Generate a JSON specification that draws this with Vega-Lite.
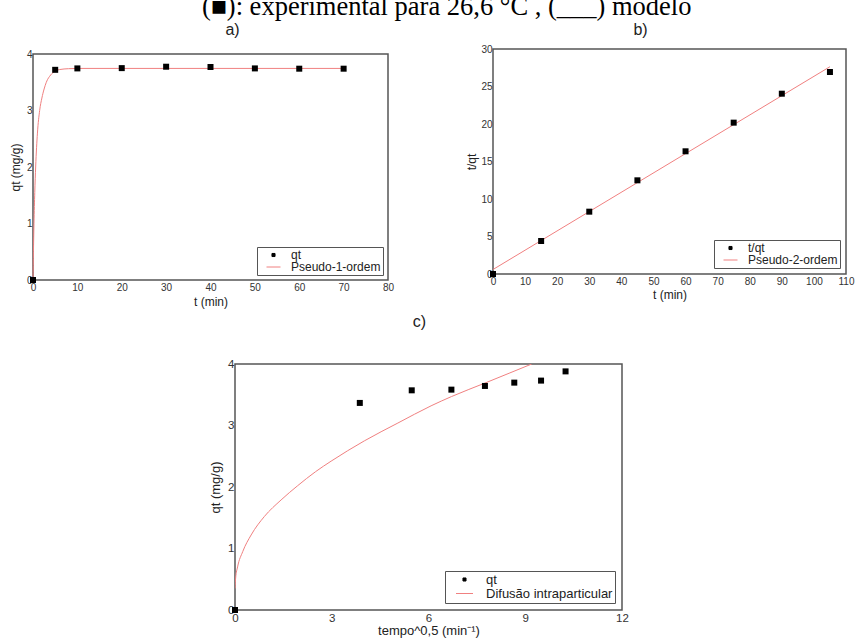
{
  "$schema": "https://vega.github.io/schema/vega-lite/v6.json",
  "padding": {"left": 8, "top": -7, "right": 0, "bottom": 0},
  "autosize": {"type": "pad"},
  "background": "white",
  "config": {
    "font": "Liberation Sans",
    "view": {"stroke": "#555", "strokeWidth": 1.5},
    "axis": {"grid": false, "domain": false, "ticks": false, "labelFontSize": 10, "labelColor": "#333", "labelPadding": 1, "titleFontSize": 12, "titleFontWeight": "normal", "titleColor": "#222", "labelFlush": false, "labelOverlap": false, "format": "d"},
    "axisX": {"labelPadding": 2},
    "legend": {"title": null, "orient": "bottom-right", "offset": 5, "padding": 2, "strokeColor": "#555", "fillColor": "white", "labelFontSize": 12, "labelColor": "#222", "labelOffset": 3, "symbolSize": 784, "clipHeight": 12, "rowPadding": 0, "symbolStrokeWidth": 1}
  },
  "title": {"text": "(■): experimental para 26,6 °C , (___) modelo", "font": "Liberation Serif", "fontSize": 26.5, "fontWeight": "normal", "color": "black", "anchor": "middle", "offset": 1, "dx": 15},
  "datasets": {
    "pts_a": [
      {"t": 0, "q": 0, "s": "qt"}, {"t": 5, "q": 3.72, "s": "qt"}, {"t": 10, "q": 3.745, "s": "qt"}, {"t": 20, "q": 3.75, "s": "qt"}, {"t": 30, "q": 3.775, "s": "qt"}, {"t": 40, "q": 3.77, "s": "qt"}, {"t": 50, "q": 3.745, "s": "qt"}, {"t": 60, "q": 3.74, "s": "qt"}, {"t": 70, "q": 3.74, "s": "qt"}
    ],
    "fit_a": [
      {"t": 0, "q": 0, "s": "Pseudo-1-ordem"}, {"t": 0.1, "q": 0.5, "s": "Pseudo-1-ordem"}, {"t": 0.22, "q": 1.0, "s": "Pseudo-1-ordem"}, {"t": 0.4, "q": 1.55, "s": "Pseudo-1-ordem"}, {"t": 0.6, "q": 2.0, "s": "Pseudo-1-ordem"}, {"t": 1.0, "q": 2.6, "s": "Pseudo-1-ordem"}, {"t": 1.5, "q": 3.0, "s": "Pseudo-1-ordem"}, {"t": 2, "q": 3.22, "s": "Pseudo-1-ordem"}, {"t": 2.5, "q": 3.38, "s": "Pseudo-1-ordem"}, {"t": 3, "q": 3.5, "s": "Pseudo-1-ordem"}, {"t": 4, "q": 3.63, "s": "Pseudo-1-ordem"}, {"t": 5, "q": 3.7, "s": "Pseudo-1-ordem"}, {"t": 6, "q": 3.725, "s": "Pseudo-1-ordem"}, {"t": 8, "q": 3.74, "s": "Pseudo-1-ordem"}, {"t": 10, "q": 3.745, "s": "Pseudo-1-ordem"}, {"t": 70, "q": 3.745, "s": "Pseudo-1-ordem"}
    ],
    "pts_b": [
      {"t": 0, "y": 0, "s": "t/qt"}, {"t": 15, "y": 4.4, "s": "t/qt"}, {"t": 30, "y": 8.31, "s": "t/qt"}, {"t": 45, "y": 12.49, "s": "t/qt"}, {"t": 60, "y": 16.36, "s": "t/qt"}, {"t": 75, "y": 20.18, "s": "t/qt"}, {"t": 90, "y": 24.04, "s": "t/qt"}, {"t": 105, "y": 26.93, "s": "t/qt"}
    ],
    "fit_b": [
      {"t": 0, "y": 0.6, "s": "Pseudo-2-ordem"}, {"t": 105, "y": 27.64, "s": "Pseudo-2-ordem"}
    ],
    "pts_c": [
      {"x": 0, "q": 0, "s": "qt"}, {"x": 3.87, "q": 3.367, "s": "qt"}, {"x": 5.48, "q": 3.572, "s": "qt"}, {"x": 6.71, "q": 3.583, "s": "qt"}, {"x": 7.75, "q": 3.643, "s": "qt"}, {"x": 8.66, "q": 3.697, "s": "qt"}, {"x": 9.49, "q": 3.73, "s": "qt"}, {"x": 10.25, "q": 3.88, "s": "qt"}
    ],
    "fit_c": [
      {"x": 0, "q": 0.35, "s": "Difusão intraparticular"}, {"x": 0.02, "q": 0.52, "s": "Difusão intraparticular"}, {"x": 0.08, "q": 0.7, "s": "Difusão intraparticular"}, {"x": 0.24, "q": 0.95, "s": "Difusão intraparticular"}, {"x": 0.5, "q": 1.22, "s": "Difusão intraparticular"}, {"x": 0.91, "q": 1.52, "s": "Difusão intraparticular"}, {"x": 1.43, "q": 1.79, "s": "Difusão intraparticular"}, {"x": 1.94, "q": 2.02, "s": "Difusão intraparticular"}, {"x": 2.5, "q": 2.25, "s": "Difusão intraparticular"}, {"x": 2.98, "q": 2.42, "s": "Difusão intraparticular"}, {"x": 4.01, "q": 2.75, "s": "Difusão intraparticular"}, {"x": 5.05, "q": 3.04, "s": "Difusão intraparticular"}, {"x": 6.08, "q": 3.32, "s": "Difusão intraparticular"}, {"x": 6.71, "q": 3.47, "s": "Difusão intraparticular"}, {"x": 7.75, "q": 3.69, "s": "Difusão intraparticular"}, {"x": 8.5, "q": 3.85, "s": "Difusão intraparticular"}, {"x": 9.2, "q": 4.0, "s": "Difusão intraparticular"}
    ],
    "empty": []
  },
  "spacing": 5,
  "resolve": {"scale": {"color": "independent"}, "legend": {"color": "independent"}},
  "vconcat": [
    {
      "spacing": 70,
      "resolve": {"scale": {"color": "independent"}, "legend": {"color": "independent"}},
      "hconcat": [
        {
          "bounds": "flush",
          "spacing": 4,
          "resolve": {"scale": {"color": "independent"}, "legend": {"color": "independent"}},
          "vconcat": [
            {
              "width": 1, "height": 1,
              "data": {"name": "empty"},
              "mark": {"type": "point", "opacity": 0},
              "view": {"stroke": null}
            },
            {
              "width": 355, "height": 226,
              "title": {"text": "a)", "fontSize": 16, "fontWeight": "normal", "color": "#222", "offset": 11, "dx": 22, "anchor": "middle"},
              "layer": [
                {
                  "data": {"name": "fit_a"},
                  "mark": {"type": "line", "interpolate": "monotone", "strokeWidth": 1},
                  "encoding": {
                    "x": {"field": "t", "type": "quantitative", "scale": {"domain": [0, 80], "nice": false}, "axis": {"values": [0, 10, 20, 30, 40, 50, 60, 70, 80], "labelOverlap": false, "title": "t (min)", "titlePadding": 4}},
                    "y": {"field": "q", "type": "quantitative", "scale": {"domain": [0, 4], "nice": false}, "axis": {"values": [0, 1, 2, 3, 4], "labelOverlap": false, "title": "qt (mg/g)", "titlePadding": 4}},
                    "color": {"field": "s", "type": "nominal", "scale": {"domain": ["qt", "Pseudo-1-ordem"], "range": ["black", "#f08080"]},
                      "legend": {"encode": {"symbols": {"update": {"shape": {"signal": "datum.index === 0 ? 'M-0.11,-0.11H0.11V0.11H-0.11Z' : 'M-0.5,0H0.5'"}, "fill": {"signal": "datum.index === 0 ? 'black' : 'transparent'"}, "stroke": {"signal": "datum.index === 0 ? 'transparent' : '#f08080'"}, "opacity": {"value": 1}}}}}}
                  }
                },
                {
                  "data": {"name": "pts_a"},
                  "mark": {"type": "point", "shape": "square", "filled": true, "size": 36, "opacity": 1},
                  "encoding": {
                    "x": {"field": "t", "type": "quantitative", "axis": {"values": [0, 10, 20, 30, 40, 50, 60, 70, 80], "labelOverlap": false, "title": "t (min)", "titlePadding": 4}},
                    "y": {"field": "q", "type": "quantitative", "axis": {"values": [0, 1, 2, 3, 4], "labelOverlap": false, "title": "qt (mg/g)", "titlePadding": 4}},
                    "color": {"field": "s", "type": "nominal", "scale": {"domain": ["qt", "Pseudo-1-ordem"], "range": ["black", "#f08080"]}}
                  }
                }
              ]
            }
          ]
        },
        {
          "width": 353, "height": 225,
          "title": {"text": "b)", "fontSize": 16, "fontWeight": "normal", "color": "#222", "offset": 6, "dx": -29, "anchor": "middle"},
          "layer": [
            {
              "data": {"name": "fit_b"},
              "mark": {"type": "line", "strokeWidth": 1},
              "encoding": {
                "x": {"field": "t", "type": "quantitative", "scale": {"domain": [0, 110], "nice": false}, "axis": {"values": [0, 10, 20, 30, 40, 50, 60, 70, 80, 90, 100, 110], "labelOverlap": false, "title": "t (min)", "titlePadding": 3}},
                "y": {"field": "y", "type": "quantitative", "scale": {"domain": [0, 30], "nice": false}, "axis": {"values": [0, 5, 10, 15, 20, 25, 30], "labelOverlap": false, "title": "t/qt", "titlePadding": 2}},
                "color": {"field": "s", "type": "nominal", "scale": {"domain": ["t/qt", "Pseudo-2-ordem"], "range": ["black", "#f08080"]},
                  "legend": {"offset": 6, "encode": {"symbols": {"update": {"shape": {"signal": "datum.index === 0 ? 'M-0.11,-0.11H0.11V0.11H-0.11Z' : 'M-0.5,0H0.5'"}, "fill": {"signal": "datum.index === 0 ? 'black' : 'transparent'"}, "stroke": {"signal": "datum.index === 0 ? 'transparent' : '#f08080'"}, "opacity": {"value": 1}}}}}}
              }
            },
            {
              "data": {"name": "pts_b"},
              "mark": {"type": "point", "shape": "square", "filled": true, "size": 36, "opacity": 1},
              "encoding": {
                "x": {"field": "t", "type": "quantitative", "axis": {"values": [0, 10, 20, 30, 40, 50, 60, 70, 80, 90, 100, 110], "labelOverlap": false, "title": "t (min)", "titlePadding": 3}},
                "y": {"field": "y", "type": "quantitative", "axis": {"values": [0, 5, 10, 15, 20, 25, 30], "labelOverlap": false, "title": "t/qt", "titlePadding": 2}},
                "color": {"field": "s", "type": "nominal", "scale": {"domain": ["t/qt", "Pseudo-2-ordem"], "range": ["black", "#f08080"]}}
              }
            }
          ]
        }
      ]
    },
    {
      "bounds": "flush",
      "spacing": 201,
      "resolve": {"scale": {"color": "independent"}, "legend": {"color": "independent"}},
      "hconcat": [
        {
          "width": 1, "height": 1,
          "data": {"name": "empty"},
          "mark": {"type": "point", "opacity": 0},
          "view": {"stroke": null}
        },
        {
          "width": 387, "height": 246,
          "title": {"text": "c)", "fontSize": 16, "fontWeight": "normal", "color": "#222", "offset": 28, "dx": -9, "anchor": "middle"},
          "layer": [
            {
              "data": {"name": "fit_c"},
              "mark": {"type": "line", "interpolate": "monotone", "strokeWidth": 1, "clip": true},
              "encoding": {
                "x": {"field": "x", "type": "quantitative", "scale": {"domain": [0, 12], "nice": false}, "axis": {"values": [0, 3, 6, 9, 12], "labelOverlap": false, "labelFontSize": 11.5, "titleFontSize": 13, "title": "tempo^0,5 (min⁻¹)", "titlePadding": 1}},
                "y": {"field": "q", "type": "quantitative", "scale": {"domain": [0, 4], "nice": false}, "axis": {"values": [0, 1, 2, 3, 4], "labelOverlap": false, "labelFontSize": 11.5, "titleFontSize": 13, "title": "qt (mg/g)", "titlePadding": 5}},
                "color": {"field": "s", "type": "nominal", "scale": {"domain": ["qt", "Difusão intraparticular"], "range": ["black", "#f08080"]},
                  "legend": {"offset": 7, "symbolSize": 1156, "labelOffset": 4, "labelFontSize": 13, "clipHeight": 13, "encode": {"symbols": {"update": {"shape": {"signal": "datum.index === 0 ? 'M-0.09,-0.09H0.09V0.09H-0.09Z' : 'M-0.5,0H0.5'"}, "fill": {"signal": "datum.index === 0 ? 'black' : 'transparent'"}, "stroke": {"signal": "datum.index === 0 ? 'transparent' : '#f08080'"}, "opacity": {"value": 1}}}}}}
              }
            },
            {
              "data": {"name": "pts_c"},
              "mark": {"type": "point", "shape": "square", "filled": true, "size": 36, "opacity": 1},
              "encoding": {
                "x": {"field": "x", "type": "quantitative", "axis": {"values": [0, 3, 6, 9, 12], "labelOverlap": false, "labelFontSize": 11.5, "titleFontSize": 13, "title": "tempo^0,5 (min⁻¹)", "titlePadding": 1}},
                "y": {"field": "q", "type": "quantitative", "axis": {"values": [0, 1, 2, 3, 4], "labelOverlap": false, "labelFontSize": 11.5, "titleFontSize": 13, "title": "qt (mg/g)", "titlePadding": 5}},
                "color": {"field": "s", "type": "nominal", "scale": {"domain": ["qt", "Difusão intraparticular"], "range": ["black", "#f08080"]}}
              }
            }
          ]
        }
      ]
    }
  ]
}
